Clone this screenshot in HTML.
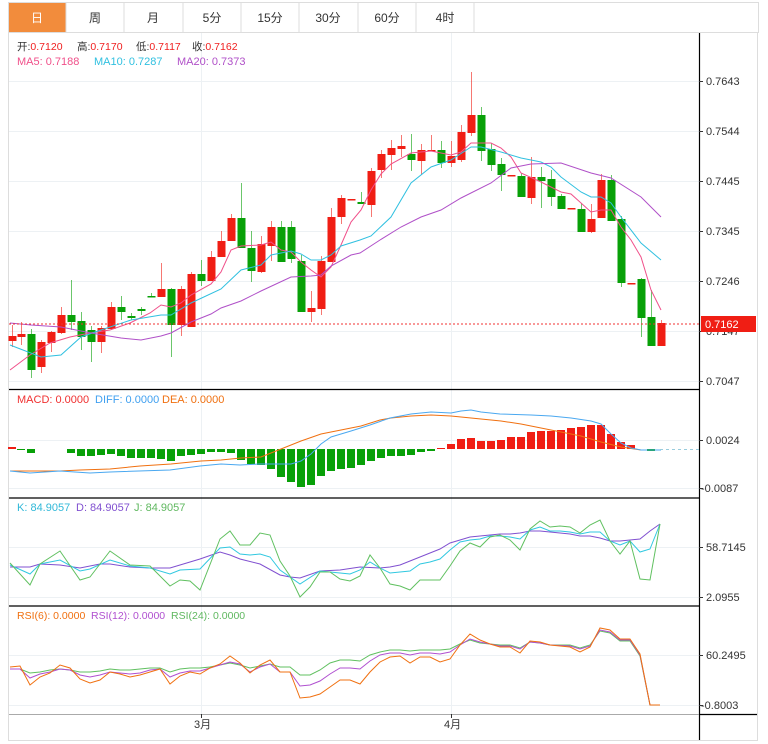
<!DOCTYPE html>
<html><head><meta charset="utf-8">
<style>
body{margin:0;background:#fff;width:768px;height:744px;overflow:hidden;font-family:"Liberation Sans","Noto Sans CJK SC",sans-serif;}
svg{position:absolute;left:0;top:0}
text{font-family:"Liberation Sans","Noto Sans CJK SC",sans-serif;}
</style></head><body>
<svg id="s" width="768" height="744" xmlns="http://www.w3.org/2000/svg">
<rect x="0" y="0" width="768" height="744" fill="#fff"/>
<rect x="8.5" y="2.5" width="750" height="30" fill="#fff" stroke="#ddd"/>
<rect x="9" y="3" width="57" height="29" fill="#f28c3c"/>
<g stroke="#ddd"><line x1="66" y1="3" x2="66" y2="32"/><line x1="124" y1="3" x2="124" y2="32"/><line x1="183" y1="3" x2="183" y2="32"/><line x1="241" y1="3" x2="241" y2="32"/><line x1="299" y1="3" x2="299" y2="32"/><line x1="358" y1="3" x2="358" y2="32"/><line x1="416" y1="3" x2="416" y2="32"/><line x1="474" y1="3" x2="474" y2="32"/></g>
<g font-size="12" text-anchor="middle" fill="#333">
<text x="37" y="22" fill="#fff">日</text><text x="95" y="22">周</text><text x="153" y="22">月</text><text x="212" y="22">5分</text><text x="270" y="22">15分</text><text x="328" y="22">30分</text><text x="387" y="22">60分</text><text x="445" y="22">4时</text>
</g>
<g stroke="#ddd" fill="none"><line x1="8.5" y1="32" x2="8.5" y2="740"/><line x1="757.5" y1="32" x2="757.5" y2="740"/><line x1="8" y1="740.5" x2="758" y2="740.5"/></g>
<g stroke="#edf1f4" stroke-width="1">
<line x1="9" y1="81.5" x2="699" y2="81.5"/><line x1="9" y1="131.5" x2="699" y2="131.5"/><line x1="9" y1="181.5" x2="699" y2="181.5"/><line x1="9" y1="231.5" x2="699" y2="231.5"/><line x1="9" y1="281.5" x2="699" y2="281.5"/><line x1="9" y1="331.5" x2="699" y2="331.5"/><line x1="9" y1="381.5" x2="699" y2="381.5"/>
<line x1="9" y1="440.5" x2="699" y2="440.5"/><line x1="9" y1="488.5" x2="699" y2="488.5"/>
<line x1="9" y1="547.5" x2="699" y2="547.5"/><line x1="9" y1="597.5" x2="699" y2="597.5"/>
<line x1="9" y1="655.5" x2="699" y2="655.5"/><line x1="9" y1="705.5" x2="699" y2="705.5"/>
<line x1="201.5" y1="33" x2="201.5" y2="714"/><line x1="451.5" y1="33" x2="451.5" y2="714"/>
</g>
<g stroke="#000" stroke-width="1.2">
<line x1="9" y1="389.5" x2="699" y2="389.5"/><line x1="9" y1="498" x2="699" y2="498"/><line x1="9" y1="606" x2="699" y2="606"/>
<line x1="699.5" y1="33" x2="699.5" y2="740"/><line x1="699" y1="714.5" x2="757" y2="714.5"/>
</g>
<line x1="9" y1="714.5" x2="699" y2="714.5" stroke="#aaa"/>
<g stroke="#333"><line x1="201.5" y1="714" x2="201.5" y2="718"/><line x1="451.5" y1="714" x2="451.5" y2="718"/></g>
<g font-size="11" fill="#333"><text x="194" y="728">3月</text><text x="444" y="728">4月</text></g>
<g font-size="11" fill="#333">
<text x="706" y="85">0.7643</text><text x="706" y="135">0.7544</text><text x="706" y="185">0.7445</text><text x="706" y="235">0.7345</text><text x="706" y="285">0.7246</text><text x="706" y="335">0.7147</text><text x="706" y="385">0.7047</text>
<text x="706" y="444">0.0024</text><text x="701" y="492">-0.0087</text>
<text x="706" y="551">58.7145</text><text x="706" y="601">2.0955</text>
<text x="706" y="659">60.2495</text><text x="701" y="709">-0.8003</text>
</g>
<g stroke="#333"><line x1="699" y1="81.5" x2="703" y2="81.5"/><line x1="699" y1="131.5" x2="703" y2="131.5"/><line x1="699" y1="181.5" x2="703" y2="181.5"/><line x1="699" y1="231.5" x2="703" y2="231.5"/><line x1="699" y1="281.5" x2="703" y2="281.5"/><line x1="699" y1="331.5" x2="703" y2="331.5"/><line x1="699" y1="381.5" x2="703" y2="381.5"/><line x1="699" y1="440.5" x2="703" y2="440.5"/><line x1="699" y1="488.5" x2="703" y2="488.5"/><line x1="699" y1="547.5" x2="703" y2="547.5"/><line x1="699" y1="597.5" x2="703" y2="597.5"/><line x1="699" y1="655.5" x2="703" y2="655.5"/><line x1="699" y1="705.5" x2="703" y2="705.5"/></g>
<g font-size="10.5">
<text x="17" y="50" fill="#333">开:<tspan fill="#f02020">0.7120</tspan></text>
<text x="77" y="50" fill="#333">高:<tspan fill="#f02020">0.7170</tspan></text>
<text x="136" y="50" fill="#333">低:<tspan fill="#f02020">0.7117</tspan></text>
<text x="192" y="50" fill="#333">收:<tspan fill="#f02020">0.7162</tspan></text>
</g>
<g font-size="11">
<text x="17" y="65" fill="#f0508a">MA5: 0.7188</text><text x="94" y="65" fill="#30c0e0">MA10: 0.7287</text><text x="177" y="65" fill="#b050c8">MA20: 0.7373</text>
<text x="17" y="403" fill="#f03030">MACD: 0.0000</text><text x="95" y="403" fill="#40a0f0">DIFF: 0.0000</text><text x="162" y="403" fill="#f07010">DEA: 0.0000</text>
<text x="17" y="511" fill="#30b8d8">K: 84.9057</text><text x="76" y="511" fill="#8050d0">D: 84.9057</text><text x="134" y="511" fill="#60b860">J: 84.9057</text>
</g>
<g font-size="10.5">
<text x="17" y="619" fill="#f07010">RSI(6): 0.0000</text><text x="91" y="619" fill="#b050d0">RSI(12): 0.0000</text><text x="171" y="619" fill="#60b860">RSI(24): 0.0000</text>
</g>
<g id="dyn"></g>
<line x1="9" y1="324" x2="699" y2="324" stroke="#f03030" stroke-dasharray="2,2"/>
<line x1="660" y1="449.5" x2="699" y2="449.5" stroke="#9cd" stroke-dasharray="3,3"/>
<rect x="701" y="316" width="55" height="16" fill="#f01e14"/>
<text x="705" y="328" font-size="11" fill="#fff">0.7162</text>
</svg>
<script>
var NS="http://www.w3.org/2000/svg",g=document.getElementById("dyn");
function el(n,a){var e=document.createElementNS(NS,n);for(var k in a)e.setAttribute(k,a[k]);g.appendChild(e);return e;}
var R="#f01e14",G="#08a008";
var C=[[12,336,341,325,347,1],[21,334,337,322,345,1],[31,334,370,329,378,0],[41,342,367,340,373,1],[51,332,343,331,352,1],[61,315,333,307,334,1],[71,315,322,280,330,0],[81,321,337,312,350,0],[91,330,342,326,362,0],[101,328,342,326,353,1],[111,307,329,302,330,1],[121,307,312,296,320,0],[131,316,318,313,320,0],[141,309,311,307,315,0],[151,296,297,293,297,0],[161,289,297,263,297,1],[171,289,325,288,357,0],[181,289,325,286,336,1],[191,274,327,272,327,1],[201,274,281,260,286,0],[211,257,281,251,281,1],[221,241,257,231,257,1],[231,218,241,214,241,1],[241,218,248,183,248,0],[251,248,271,231,282,0],[261,244,272,236,273,1],[271,227,246,221,261,1],[281,227,262,221,262,0],[291,227,259,221,263,0],[301,261,312,255,312,0],[311,308,312,291,322,1],[321,261,309,256,315,1],[331,217,262,208,262,1],[341,198,217,195,224,1],[351,199,200,199,200,1],[361,202,204,192,204,0],[371,171,205,168,217,1],[381,154,170,150,178,1],[391,148,155,140,170,1],[401,146,149,135,157,1],[411,154,160,134,171,0],[421,150,161,144,175,1],[431,150,151,135,151,1],[441,150,163,141,168,0],[451,156,163,141,167,1],[461,132,160,125,162,1],[471,115,133,72,136,1],[481,115,151,107,161,0],[491,149,165,143,171,0],[501,164,175,158,191,0],[511,175,176,175,176,1],[521,176,197,173,197,0],[531,177,198,157,204,1],[541,177,181,167,208,0],[551,179,197,170,206,0],[561,196,209,194,209,0],[571,208,209,208,209,1],[581,209,232,203,232,0],[591,219,232,204,233,1],[601,180,218,174,218,1],[611,180,221,175,221,0],[621,219,283,216,287,0],[631,283,284,283,284,1],[641,279,318,278,337,0],[651,317,346,290,346,0],[661,323,346,320,346,1]];
C.forEach(function(c){var col=c[5]?R:G;
el("line",{x1:c[0]+.5,y1:c[3],x2:c[0]+.5,y2:c[4],stroke:col,"stroke-opacity":.6});
el("rect",{x:c[0]-3.5,y:c[1],width:8,height:Math.max(1.5,c[2]-c[1]),fill:col});});
function pl(p,col,w){el("polyline",{points:p,fill:"none",stroke:col,"stroke-width":w||1});}
pl("10,370 30,355 50,343 70,337 90,333 110,330 130,323 150,313 161,305 171,307 181,303 191,295 211,284 221,272 231,250 241,246 261,245 271,242 281,250 291,252 301,262 311,270 321,277 331,267 341,245 351,222 361,210 371,190 381,174 391,164 411,153 431,151 451,155 461,152 471,143 491,143 501,148 511,157 521,173 541,182 561,192 571,194 591,212 601,210 611,210 621,227 631,240 641,257 651,290 661,310","#f0508a");
pl("10,345 41,357 61,355 81,337 101,330 131,320 161,315 171,315 191,303 221,289 241,270 261,265 271,255 291,251 301,254 311,260 321,260 331,255 341,246 360,240 371,236 391,217 411,183 431,167 451,160 471,147 481,147 501,152 521,158 541,162 551,167 561,177 581,192 591,197 601,197 611,203 621,217 641,243 661,260","#30c0e0");
pl("10,323 31,325 61,327 91,333 121,338 141,340 161,336 171,333 191,322 211,314 221,308 241,301 261,291 291,277 311,276 321,275 331,266 351,255 360,253 380,240 401,227 421,217 441,210 461,198 491,183 511,168 531,164 561,163 591,173 611,178 641,197 661,217","#b050c8");
var M=[[12,447],[21,450],[31,453],[71,453],[81,456],[91,456],[101,455],[111,454],[121,456],[131,458],[141,458],[151,458],[161,459],[171,461],[181,456],[191,455],[201,454],[211,452],[221,452],[231,453],[241,460],[251,464],[261,465],[271,469],[281,477],[291,482],[301,487],[311,485],[321,476],[331,471],[341,469],[351,468],[361,465],[371,461],[381,458],[391,456],[401,456],[411,455],[421,452],[431,451],[441,448],[451,444],[461,439],[471,438],[481,441],[491,441],[501,440],[511,437],[521,437],[531,432],[541,431],[551,431],[561,430],[571,428],[581,427],[591,425],[601,425],[611,434],[621,442],[631,445],[651,451]];
M.forEach(function(m){var up=m[1]<449;el("rect",{x:m[0]-4,y:up?m[1]:449,width:8,height:Math.max(1,Math.abs(m[1]-449)),fill:up?R:G});});
pl("10,471 60,471 80,470 110,469 140,466 171,464 201,461 221,460 241,458 261,457 281,449 301,441 321,434 341,430 361,426 380,420 391,418 411,416 431,415 451,416 461,417 481,419 501,421 521,424 541,428 561,432 581,436 601,442 621,447 641,450 661,450","#f07010");
pl("10,471 30,473 60,471 90,473 110,472 170,470 200,466 221,464 240,465 260,464 291,464 301,461 311,454 321,444 331,437 351,431 370,425 390,418 411,414 431,412 451,413 461,411 471,410 481,412 500,414 531,415 551,416 571,418 591,421 601,424 611,434 621,443 631,448 641,450 661,450","#4aa8f0");
pl("10,567 30,567 40,564 60,565 80,568 100,564 110,564 130,567 150,568 170,568 180,565 200,559 220,552 230,555 240,559 260,564 280,575 290,577 300,578 320,571 340,570 360,567 380,568 390,567 400,565 410,561 420,557 430,553 440,549 450,543 460,540 470,537 480,536 490,535 500,534 510,534 520,533 530,531 540,531 550,532 560,533 570,534 580,536 590,536 600,538 610,541 620,541 630,540 640,539 650,531 660,524","#8050d0");
pl("10,565 30,574 40,564 60,560 80,571 90,569 110,560 130,566 150,568 170,574 180,570 200,569 220,548 230,547 240,554 250,555 260,554 270,557 280,570 290,577 300,584 320,571 330,572 350,574 360,570 370,562 380,568 390,573 400,572 410,571 420,564 430,562 440,559 450,550 460,542 470,540 480,539 490,536 500,536 510,537 520,539 530,530 540,527 550,531 560,531 570,532 580,534 590,532 600,532 610,541 620,545 630,541 640,552 650,549 660,524","#30c8e0");
pl("10,563 30,585 40,564 60,551 80,580 90,577 110,551 130,565 150,566 170,586 180,580 190,581 200,590 220,539 230,531 240,545 250,545 260,533 270,535 280,561 290,576 300,597 310,587 320,572 330,572 340,579 350,581 360,576 370,555 380,568 390,584 400,586 410,590 420,580 440,580 450,566 460,551 470,543 480,547 490,537 500,535 510,540 520,550 530,529 540,521 550,527 560,526 570,527 580,533 590,525 600,520 610,541 620,554 630,541 640,579 650,580 660,524","#60c060");
pl("10,669 20,669 30,673 40,672 50,670 60,669 70,670 80,672 90,672 100,671 110,669 120,670 130,670 140,669 150,668 160,668 170,672 180,669 190,668 200,668 210,667 220,665 230,663 240,665 250,668 260,666 270,664 280,667 290,667 300,675 310,675 320,670 330,663 340,660 350,660 360,661 370,655 380,652 390,650 400,650 410,651 420,650 440,650 450,649 460,644 470,640 480,643 490,644 500,645 510,645 520,648 530,642 540,643 550,645 570,645 580,648 590,645 600,631 610,633 620,641 630,641 640,656 650,705 660,705","#60c060");
pl("10,669 20,669 30,678 40,674 50,672 60,669 70,670 80,675 90,677 100,675 110,672 120,673 130,674 140,673 150,670 160,669 170,677 180,673 190,671 200,671 210,668 220,665 230,662 240,664 250,672 260,667 270,664 280,672 290,672 300,686 310,685 320,681 330,674 340,668 350,668 360,669 370,661 380,655 390,653 400,653 410,655 420,653 430,653 440,654 450,652 460,645 470,639 480,642 490,644 500,646 510,646 520,649 530,642 540,643 550,645 570,646 580,649 590,646 600,630 610,632 620,640 630,640 640,655 650,705 660,705","#b050d0");
pl("10,667 20,666 30,685 40,677 50,673 60,665 70,668 80,679 90,683 100,680 110,672 120,674 130,677 140,675 150,672 160,669 170,684 180,676 190,672 200,674 210,668 220,664 230,656 240,663 250,673 260,665 270,660 280,672 290,672 300,698 310,697 320,694 330,687 340,680 350,680 360,684 370,672 380,662 390,657 400,656 410,663 420,657 430,657 440,662 450,659 460,645 470,634 480,640 490,644 500,647 510,647 520,653 530,641 540,642 550,645 570,647 580,652 590,647 600,628 610,630 620,639 630,639 640,654 650,705 660,705","#f07010");
</script>
</body></html>
